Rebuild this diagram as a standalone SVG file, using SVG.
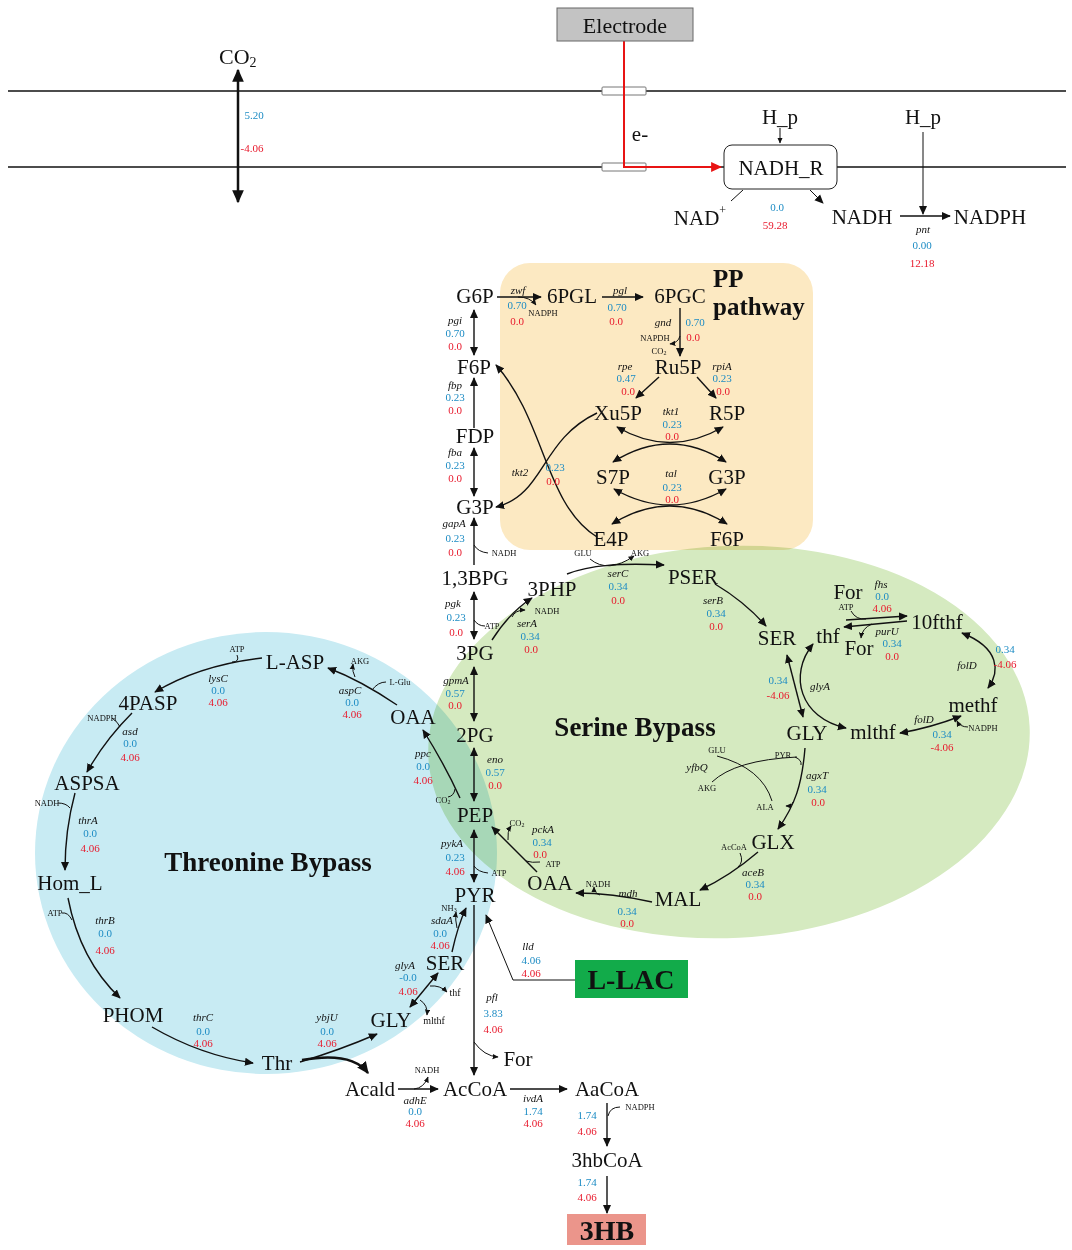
<svg xmlns="http://www.w3.org/2000/svg" width="1072" height="1250" viewBox="0 0 1072 1250">
<defs>
<style>
text{font-family:"Liberation Serif","Times New Roman",serif;dominant-baseline:central;text-anchor:middle;fill:#111}
.m{font-size:21px}
.g{font-size:11px;font-style:italic}
.b{font-size:11px;fill:#1d8cc4}
.r{font-size:11px;fill:#e8192c}
.c{font-size:8.5px}
.t{font-size:27px;font-weight:bold}
.l{fill:none;stroke:#111;stroke-width:1.4}
.f{fill:none;stroke:#111;stroke-width:1}
.e{marker-end:url(#a)}
.d{marker-end:url(#a);marker-start:url(#a)}
.se{marker-end:url(#s)}
</style>
<marker id="a" viewBox="0 0 10 10" refX="9" refY="5" markerWidth="9" markerHeight="9" markerUnits="userSpaceOnUse" orient="auto-start-reverse"><path d="M0,0.5 L10,5 L0,9.5 z" fill="#111"/></marker>
<marker id="s" viewBox="0 0 10 10" refX="9" refY="5" markerWidth="6" markerHeight="6" markerUnits="userSpaceOnUse" orient="auto-start-reverse"><path d="M0,0.5 L10,5 L0,9.5 z" fill="#111"/></marker>
<marker id="A" viewBox="0 0 10 10" refX="9" refY="5" markerWidth="13" markerHeight="13" markerUnits="userSpaceOnUse" orient="auto-start-reverse"><path d="M0,0.5 L10,5 L0,9.5 z" fill="#111"/></marker>
<marker id="B" viewBox="0 0 10 10" refX="9" refY="5" markerWidth="12" markerHeight="12" markerUnits="userSpaceOnUse" orient="auto"><path d="M0,0.5 L10,5 L0,9.5 z" fill="#111"/></marker>
<marker id="ra" viewBox="0 0 10 10" refX="9" refY="5" markerWidth="11" markerHeight="11" markerUnits="userSpaceOnUse" orient="auto"><path d="M0,0.5 L10,5 L0,9.5 z" fill="#e81414"/></marker>
</defs>
<rect width="1072" height="1250" fill="#fff"/>

<!-- regions -->
<g id="regions">
<rect x="500" y="263" width="313" height="287" rx="30" fill="#fce9c2"/>
<ellipse cx="266" cy="853" rx="231" ry="221" fill="#c8ebf3"/>
<ellipse cx="729" cy="742" rx="301" ry="196" transform="rotate(-3 729 742)" fill="#d5eac0" style="mix-blend-mode:multiply"/>
<text class="t" x="713" y="278" style="text-anchor:start;font-size:25px">PP</text>
<text class="t" x="713" y="306" style="text-anchor:start;font-size:25px">pathway</text>
<text class="t" x="635" y="727">Serine Bypass</text>
<text class="t" x="268" y="862">Threonine Bypass</text>
</g>

<!-- membrane -->
<g id="membrane">
<line x1="8" y1="91" x2="1066" y2="91" stroke="#111" stroke-width="1.5"/>
<line x1="8" y1="167" x2="1066" y2="167" stroke="#111" stroke-width="1.5"/>
<rect x="602" y="87" width="44" height="8" rx="1" fill="#fff" stroke="#777"/>
<rect x="602" y="163" width="44" height="8" rx="1" fill="#fff" stroke="#777"/>
</g>

<g id="connectors">
<path d="M624,41 V167 H721" fill="none" stroke="#e81414" stroke-width="2" marker-end="url(#ra)"/>
<path d="M238,70 V202" fill="none" stroke="#111" stroke-width="2.5" marker-start="url(#A)" marker-end="url(#A)"/>
<path class="f se" d="M780,128 V143"/>
<path class="f e" d="M923,132 V214"/>
<path class="f" d="M743,190 L731,201"/>
<path class="f e" d="M810,190 L823,203"/>
<path class="l e" d="M900,216 H950"/>
<!-- glycolysis -->
<path class="l d" d="M474,310 V355"/>
<path class="l e" d="M474,428 V378"/>
<path class="l d" d="M474,448 V496"/>
<path class="l e" d="M474,565 V518"/>
<path class="f" d="M474,545 Q478,552 488,553"/>
<path class="l d" d="M474,592 V639"/>
<path class="f" d="M474,620 Q478,626 485,626"/>
<path class="l d" d="M474,667 V721"/>
<path class="l d" d="M474,748 V801"/>
<path class="l d" d="M474,830 V882"/>
<path class="f" d="M474,866 Q478,872 488,873"/>
<path class="l e" d="M474,905 V1075"/>
<path class="f se" d="M474,1042 Q484,1056 498,1057"/>
<!-- PP -->
<path class="l e" d="M497,297 H541"/>
<path class="f se" d="M518,297 Q530,297 536,305"/>
<path class="l e" d="M602,297 H643"/>
<path class="l e" d="M680,308 V356"/>
<path class="f se" d="M680,336 Q678,343 670,344"/>
<path class="l e" d="M659,377 L636,398"/>
<path class="l e" d="M697,377 L716,398"/>
<path class="l d" d="M617,427 Q670,458 723,427"/>
<path class="l d" d="M613,462 Q670,426 726,462"/>
<path class="l d" d="M614,489 Q670,521 726,489"/>
<path class="l d" d="M612,524 Q670,488 727,524"/>
<path class="l e" d="M597,537 C545,505 545,420 496,365"/>
<path class="l e" d="M597,413 C540,440 545,495 496,507"/>
<!-- serine -->
<path class="l e" d="M567,574 C590,565 620,563 664,565"/>
<path class="f se" d="M590,559 Q608,574 634,556"/>
<path class="l e" d="M492,640 Q510,612 532,598"/>
<path class="f se" d="M512,617 Q515,610 525,610"/>
<path class="l e" d="M715,584 Q745,602 766,626"/>
<path class="l e" d="M846,620 L907,616"/>
<path class="l e" d="M907,621 L844,627"/>
<path class="f" d="M851,611 Q856,620 866,619"/>
<path class="f se" d="M872,624 Q862,628 861,638"/>
<path class="l d" d="M787,655 L803,717"/>
<path class="l d" d="M813,644 C788,675 800,718 846,728"/>
<path class="l d" d="M962,633 C1000,648 1000,672 988,688"/>
<path class="l d" d="M900,733 Q930,728 961,716"/>
<path class="f se" d="M968,727 Q960,727 957,721"/>
<path class="l e" d="M805,748 C802,785 795,805 778,829"/>
<path class="f" d="M795,757 Q802,760 801,765"/>
<path class="f se" d="M793,802 Q792,806 786,806"/>
<path class="f" d="M717,756 Q762,768 772,801"/>
<path class="f" d="M712,782 Q735,760 797,757"/>
<path class="l e" d="M758,852 Q730,876 700,890"/>
<path class="f" d="M740,853 Q744,862 738,867"/>
<path class="l e" d="M652,902 Q612,893 576,893"/>
<path class="f se" d="M600,895 Q594,893 594,887"/>
<path class="l e" d="M537,872 Q515,850 492,827"/>
<path class="f se" d="M508,840 Q507,832 511,826"/>
<path class="f" d="M526,861 Q532,863 540,862"/>
<!-- threonine -->
<path class="l e" d="M397,705 Q360,680 328,668"/>
<path class="f se" d="M355,677 Q352,672 353,664"/>
<path class="f" d="M372,690 Q378,682 386,682"/>
<path class="l e" d="M262,658 Q200,665 155,692"/>
<path class="f" d="M237,655 Q240,662 232,662"/>
<path class="l e" d="M132,713 Q105,740 87,772"/>
<path class="f" d="M112,718 Q118,722 120,727"/>
<path class="l e" d="M75,793 Q65,830 65,870"/>
<path class="f" d="M58,803 Q66,803 70,808"/>
<path class="l e" d="M68,898 Q80,960 120,998"/>
<path class="f" d="M62,913 Q68,912 72,920"/>
<path class="l e" d="M152,1027 Q200,1055 253,1063"/>
<path class="l e" d="M300,1062 Q340,1050 377,1034"/>
<path d="M302,1060 C330,1055 356,1057 368,1073" fill="none" stroke="#111" stroke-width="2.4" marker-end="url(#B)"/>
<path class="l e" d="M460,798 Q445,765 423,730"/>
<path class="f" d="M448,797 Q454,796 455,789"/>
<path class="l e" d="M452,952 Q458,925 466,908"/>
<path class="f se" d="M457,928 Q455,920 456,912"/>
<path class="l d" d="M410,1007 L438,973"/>
<path class="f se" d="M430,986 Q440,985 447,992"/>
<path class="f se" d="M420,1000 Q428,1005 427,1015"/>
<!-- lactate -->
<path class="f e" d="M575,980 H513 L486,915" stroke-width="1.3"/>
<!-- bottom -->
<path class="l e" d="M398,1089 H438"/>
<path class="f se" d="M414,1089 Q424,1088 428,1077"/>
<path class="l e" d="M510,1089 H567"/>
<path class="l e" d="M607,1103 V1146"/>
<path class="f" d="M620,1107 Q610,1107 608,1116"/>
<path class="l e" d="M607,1176 V1213"/>
</g>

<!-- nodes -->
<g id="n-electrode"><rect x="557" y="8" width="136" height="33" fill="#c3c3c3" stroke="#666"/><text class="m" x="625" y="25" style="font-size:22px">Electrode</text></g>
<g id="n-co2"><text x="219" y="56" style="font-size:22px;text-anchor:start">CO<tspan dy="6" style="font-size:14px">2</tspan></text></g>
<g id="n-e"><text class="m" x="640" y="134">e-</text></g>
<g id="n-nadhr"><rect x="724" y="145" width="113" height="44" rx="8" fill="#fff" stroke="#222"/><text class="m" x="781" y="168">NADH_R</text></g>
<g id="n-hp1"><text class="m" x="780" y="117">H_p</text></g>
<g id="n-hp2"><text class="m" x="923" y="117">H_p</text></g>
<g id="n-nad"><text class="m" x="700" y="218">NAD<tspan dy="-8" style="font-size:12px">+</tspan></text></g>
<g id="n-nadh"><text class="m" x="862" y="217">NADH</text></g>
<g id="n-nadph"><text class="m" x="990" y="217">NADPH</text></g>

<g id="n-G6P"><text class="m" x="475" y="296">G6P</text></g>
<g id="n-6PGL"><text class="m" x="572" y="296">6PGL</text></g>
<g id="n-6PGC"><text class="m" x="680" y="296">6PGC</text></g>
<g id="n-Ru5P"><text class="m" x="678" y="367">Ru5P</text></g>
<g id="n-Xu5P"><text class="m" x="618" y="413">Xu5P</text></g>
<g id="n-R5P"><text class="m" x="727" y="413">R5P</text></g>
<g id="n-S7P"><text class="m" x="613" y="477">S7P</text></g>
<g id="n-G3P-pp"><text class="m" x="727" y="477">G3P</text></g>
<g id="n-E4P"><text class="m" x="611" y="539">E4P</text></g>
<g id="n-F6P-pp"><text class="m" x="727" y="539">F6P</text></g>
<g id="n-F6P"><text class="m" x="474" y="367">F6P</text></g>
<g id="n-FDP"><text class="m" x="475" y="436">FDP</text></g>
<g id="n-G3P"><text class="m" x="475" y="507">G3P</text></g>
<g id="n-13BPG"><text class="m" x="475" y="578">1,3BPG</text></g>
<g id="n-3PG"><text class="m" x="475" y="653">3PG</text></g>
<g id="n-2PG"><text class="m" x="475" y="735">2PG</text></g>
<g id="n-PEP"><text class="m" x="475" y="815">PEP</text></g>
<g id="n-PYR"><text class="m" x="475" y="895">PYR</text></g>
<g id="n-3PHP"><text class="m" x="552" y="589">3PHP</text></g>
<g id="n-PSER"><text class="m" x="693" y="577">PSER</text></g>
<g id="n-SER"><text class="m" x="777" y="638">SER</text></g>
<g id="n-thf"><text class="m" x="828" y="636">thf</text></g>
<g id="n-For1"><text class="m" x="848" y="592">For</text></g>
<g id="n-For2"><text class="m" x="859" y="648">For</text></g>
<g id="n-10fthf"><text class="m" x="937" y="622">10fthf</text></g>
<g id="n-methf"><text class="m" x="973" y="705">methf</text></g>
<g id="n-mlthf"><text class="m" x="873" y="732">mlthf</text></g>
<g id="n-GLY"><text class="m" x="807" y="733">GLY</text></g>
<g id="n-GLX"><text class="m" x="773" y="842">GLX</text></g>
<g id="n-MAL"><text class="m" x="678" y="899">MAL</text></g>
<g id="n-OAA"><text class="m" x="550" y="883">OAA</text></g>
<g id="n-OAA-t"><text class="m" x="413" y="717">OAA</text></g>
<g id="n-LASP"><text class="m" x="295" y="662">L-ASP</text></g>
<g id="n-4PASP"><text class="m" x="148" y="703">4PASP</text></g>
<g id="n-ASPSA"><text class="m" x="87" y="783">ASPSA</text></g>
<g id="n-HomL"><text class="m" x="70" y="883">Hom_L</text></g>
<g id="n-PHOM"><text class="m" x="133" y="1015">PHOM</text></g>
<g id="n-Thr"><text class="m" x="277" y="1063">Thr</text></g>
<g id="n-GLY-t"><text class="m" x="391" y="1020">GLY</text></g>
<g id="n-SER-t"><text class="m" x="445" y="963">SER</text></g>
<g id="n-Acald"><text class="m" x="370" y="1089">Acald</text></g>
<g id="n-AcCoA"><text class="m" x="475" y="1089">AcCoA</text></g>
<g id="n-For3"><text class="m" x="518" y="1059">For</text></g>
<g id="n-AaCoA"><text class="m" x="607" y="1089">AaCoA</text></g>
<g id="n-3hbCoA"><text class="m" x="607" y="1160">3hbCoA</text></g>
<g id="n-3HB"><rect x="567" y="1214" width="79" height="31" fill="#eb958b"/><text class="t" x="607" y="1230" style="font-size:28px">3HB</text></g>
<g id="n-LLAC"><rect x="575" y="960" width="113" height="38" fill="#12ab4a"/><text class="t" x="631" y="979" style="font-size:28px">L-LAC</text></g>

<!-- labels -->
<g id="labels">
<text class="b" x="254" y="115">5.20</text><text class="r" x="252" y="148">-4.06</text>
<text class="b" x="777" y="207">0.0</text><text class="r" x="775" y="225">59.28</text>
<text class="g" x="923" y="229">pnt</text><text class="b" x="922" y="245">0.00</text><text class="r" x="922" y="263">12.18</text>

<text class="g" x="455" y="320">pgi</text><text class="b" x="455" y="333">0.70</text><text class="r" x="455" y="346">0.0</text>
<text class="g" x="455" y="385">fbp</text><text class="b" x="455" y="397">0.23</text><text class="r" x="455" y="410">0.0</text>
<text class="g" x="455" y="452">fba</text><text class="b" x="455" y="465">0.23</text><text class="r" x="455" y="478">0.0</text>
<text class="g" x="454" y="523">gapA</text><text class="b" x="455" y="538">0.23</text><text class="r" x="455" y="552">0.0</text>
<text class="c" x="504" y="553">NADH</text>
<text class="g" x="453" y="603">pgk</text><text class="b" x="456" y="617">0.23</text><text class="r" x="456" y="632">0.0</text>
<text class="c" x="492" y="626">ATP</text>
<text class="g" x="456" y="680">gpmA</text><text class="b" x="455" y="693">0.57</text><text class="r" x="455" y="705">0.0</text>
<text class="g" x="495" y="759">eno</text><text class="b" x="495" y="772">0.57</text><text class="r" x="495" y="785">0.0</text>
<text class="g" x="452" y="843">pykA</text><text class="b" x="455" y="857">0.23</text><text class="r" x="455" y="871">4.06</text>
<text class="c" x="499" y="873">ATP</text>
<text class="g" x="492" y="997">pfl</text><text class="b" x="493" y="1013">3.83</text><text class="r" x="493" y="1029">4.06</text>

<text class="g" x="518" y="290">zwf</text><text class="b" x="517" y="305">0.70</text><text class="r" x="517" y="321">0.0</text>
<text class="c" x="543" y="313">NADPH</text>
<text class="g" x="620" y="290">pgl</text><text class="b" x="617" y="307">0.70</text><text class="r" x="616" y="321">0.0</text>
<text class="g" x="663" y="322">gnd</text><text class="b" x="695" y="322">0.70</text><text class="r" x="693" y="337">0.0</text>
<text class="c" x="655" y="338">NAPDH</text>
<text class="c" x="659" y="351">CO<tspan dy="2" style="font-size:6px">2</tspan></text>
<text class="g" x="625" y="366">rpe</text><text class="b" x="626" y="378">0.47</text><text class="r" x="628" y="391">0.0</text>
<text class="g" x="722" y="366">rpiA</text><text class="b" x="722" y="378">0.23</text><text class="r" x="723" y="391">0.0</text>
<text class="g" x="671" y="411">tkt1</text><text class="b" x="672" y="424">0.23</text><text class="r" x="672" y="436">0.0</text>
<text class="g" x="671" y="473">tal</text><text class="b" x="672" y="487">0.23</text><text class="r" x="672" y="499">0.0</text>
<text class="g" x="520" y="472">tkt2</text><text class="b" x="555" y="467">0.23</text><text class="r" x="553" y="481">0.0</text>
<text class="c" x="583" y="553">GLU</text><text class="c" x="640" y="553">AKG</text>

<text class="g" x="618" y="573">serC</text><text class="b" x="618" y="586">0.34</text><text class="r" x="618" y="600">0.0</text>
<text class="g" x="527" y="623">serA</text><text class="b" x="530" y="636">0.34</text><text class="r" x="531" y="649">0.0</text>
<text class="c" x="547" y="611">NADH</text>
<text class="g" x="713" y="600">serB</text><text class="b" x="716" y="613">0.34</text><text class="r" x="716" y="626">0.0</text>
<text class="g" x="881" y="584">fhs</text><text class="b" x="882" y="596">0.0</text><text class="r" x="882" y="608">4.06</text>
<text class="c" x="846" y="607">ATP</text>
<text class="g" x="887" y="631">purU</text><text class="b" x="892" y="643">0.34</text><text class="r" x="892" y="656">0.0</text>
<text class="g" x="820" y="686">glyA</text><text class="b" x="778" y="680">0.34</text><text class="r" x="778" y="695">-4.06</text>
<text class="g" x="967" y="665">folD</text><text class="b" x="1005" y="649">0.34</text><text class="r" x="1005" y="664">-4.06</text>
<text class="g" x="924" y="719">folD</text><text class="b" x="942" y="734">0.34</text><text class="r" x="942" y="747">-4.06</text>
<text class="c" x="983" y="728">NADPH</text>
<text class="g" x="817" y="775">agxT</text><text class="b" x="817" y="789">0.34</text><text class="r" x="818" y="802">0.0</text>
<text class="c" x="783" y="755">PYR</text><text class="c" x="765" y="807">ALA</text>
<text class="c" x="717" y="750">GLU</text><text class="c" x="707" y="788">AKG</text>
<text class="g" x="697" y="767">yfbQ</text>
<text class="c" x="734" y="847">AcCoA</text>
<text class="g" x="753" y="872">aceB</text><text class="b" x="755" y="884">0.34</text><text class="r" x="755" y="896">0.0</text>
<text class="c" x="598" y="884">NADH</text>
<text class="g" x="628" y="893">mdh</text><text class="b" x="627" y="911">0.34</text><text class="r" x="627" y="923">0.0</text>
<text class="c" x="517" y="823">CO<tspan dy="2" style="font-size:6px">2</tspan></text>
<text class="g" x="543" y="829">pckA</text><text class="b" x="542" y="842">0.34</text><text class="r" x="540" y="854">0.0</text>
<text class="c" x="553" y="864">ATP</text>

<text class="g" x="423" y="753">ppc</text><text class="b" x="423" y="766">0.0</text><text class="r" x="423" y="780">4.06</text>
<text class="c" x="443" y="800">CO<tspan dy="2" style="font-size:6px">2</tspan></text>
<text class="g" x="350" y="690">aspC</text><text class="b" x="352" y="702">0.0</text><text class="r" x="352" y="714">4.06</text>
<text class="c" x="360" y="661">AKG</text><text class="c" x="400" y="682">L-Glu</text>
<text class="c" x="237" y="649">ATP</text>
<text class="g" x="218" y="678">lysC</text><text class="b" x="218" y="690">0.0</text><text class="r" x="218" y="702">4.06</text>
<text class="c" x="102" y="718">NADPH</text>
<text class="g" x="130" y="731">asd</text><text class="b" x="130" y="743">0.0</text><text class="r" x="130" y="757">4.06</text>
<text class="c" x="47" y="803">NADH</text>
<text class="g" x="88" y="820">thrA</text><text class="b" x="90" y="833">0.0</text><text class="r" x="90" y="848">4.06</text>
<text class="c" x="55" y="913">ATP</text>
<text class="g" x="105" y="920">thrB</text><text class="b" x="105" y="933">0.0</text><text class="r" x="105" y="950">4.06</text>
<text class="g" x="203" y="1017">thrC</text><text class="b" x="203" y="1031">0.0</text><text class="r" x="203" y="1043">4.06</text>
<text class="g" x="327" y="1017">ybjU</text><text class="b" x="327" y="1031">0.0</text><text class="r" x="327" y="1043">4.06</text>
<text class="c" x="449" y="908">NH<tspan dy="2" style="font-size:6px">3</tspan></text>
<text class="g" x="442" y="920">sdaA</text><text class="b" x="440" y="933">0.0</text><text class="r" x="440" y="945">4.06</text>
<text class="g" x="405" y="965">glyA</text><text class="b" x="408" y="977">-0.0</text><text class="r" x="408" y="991">4.06</text>
<text class="c" x="455" y="992" style="font-size:10px">thf</text>
<text class="c" x="434" y="1020" style="font-size:10px">mlthf</text>
<text class="g" x="528" y="946">lld</text><text class="b" x="531" y="960">4.06</text><text class="r" x="531" y="973">4.06</text>

<text class="c" x="427" y="1070">NADH</text>
<text class="g" x="415" y="1100">adhE</text><text class="b" x="415" y="1111">0.0</text><text class="r" x="415" y="1123">4.06</text>
<text class="g" x="533" y="1098">ivdA</text><text class="b" x="533" y="1111">1.74</text><text class="r" x="533" y="1123">4.06</text>
<text class="c" x="640" y="1107">NADPH</text>
<text class="b" x="587" y="1115">1.74</text><text class="r" x="587" y="1131">4.06</text>
<text class="b" x="587" y="1182">1.74</text><text class="r" x="587" y="1197">4.06</text>
</g>
</svg>
